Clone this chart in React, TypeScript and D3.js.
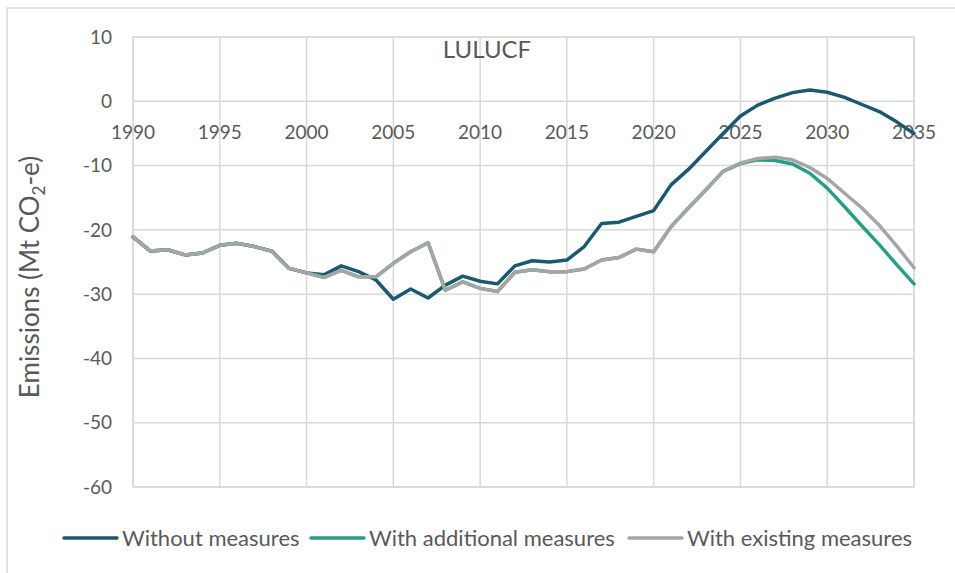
import React from "react";
import * as d3 from "d3";

const years = d3.range(1990, 2036);

const withoutMeasures = [
  -21.1, -23.3, -23.1, -23.9, -23.6, -22.4, -22.1, -22.6, -23.3, -26.0,
  -26.7, -27.0, -25.6, -26.5, -27.8, -30.8, -29.2, -30.6, -28.6, -27.2,
  -28.0, -28.4, -25.6, -24.8, -25.0, -24.7, -22.6, -19.0, -18.8, -17.9,
  -17.0, -13.0, -10.6, -7.8, -5.0, -2.3, -0.6, 0.5, 1.35, 1.75,
  1.4, 0.6, -0.5, -1.6, -3.2, -5.0,
];

const withExisting = [
  -21.1, -23.3, -23.1, -23.9, -23.6, -22.4, -22.1, -22.6, -23.3, -26.0,
  -26.7, -27.4, -26.3, -27.3, -27.3, -25.2, -23.4, -22.0, -29.4, -28.1,
  -29.1, -29.6, -26.6, -26.2, -26.5, -26.5, -26.1, -24.7, -24.3, -23.0,
  -23.4, -19.5, -16.6, -13.8, -10.9, -9.6, -8.9, -8.7, -9.1, -10.3,
  -12.0, -14.3, -16.6, -19.3, -22.5, -25.9,
];

const withAdditional = [
  -21.1, -23.3, -23.1, -23.9, -23.6, -22.4, -22.1, -22.6, -23.3, -26.0,
  -26.7, -27.4, -26.3, -27.3, -27.3, -25.2, -23.4, -22.0, -29.4, -28.1,
  -29.1, -29.6, -26.6, -26.2, -26.5, -26.5, -26.1, -24.7, -24.3, -23.0,
  -23.4, -19.5, -16.6, -13.8, -10.9, -9.7, -9.1, -9.2, -9.75, -11.2,
  -13.5, -16.4, -19.4, -22.3, -25.4, -28.4,
];

const seriesNames = ["Without measures", "With additional measures", "With existing measures"];
const seriesColors = ["#1B5A6E", "#2A9D8A", "#A5A5A5"];
const seriesData = [withoutMeasures, withAdditional, withExisting];

const xTicks = [1990, 1995, 2000, 2005, 2010, 2015, 2020, 2025, 2030, 2035];
const yTicks = [10, 0, -10, -20, -30, -40, -50, -60];

const FONT = "Lato, 'Open Sans', sans-serif";
const TEXT = "#595959";
const GRID = "#D9D9D9";

export default function App() {
  const W = 955, H = 573;
  const left = 133, right = 914, top = 37, bottom = 487;
  const x = d3.scaleLinear().domain([1990, 2035]).range([left, right]);
  const y = d3.scaleLinear().domain([-60, 10]).range([bottom, top]);
  const line = d3
    .line<number>()
    .x((_, i) => x(years[i]))
    .y((d) => y(d));

  const legendItems = [
    { sx: 64, tx: 122 },
    { sx: 311, tx: 369 },
    { sx: 629, tx: 687 },
  ];

  return (
    <svg
      width={W}
      height={H}
      style={{ position: "absolute", left: 0, top: 0, background: "#fff" }}
      fontFamily={FONT}
    >
      <rect x={7} y={8} width={1000} height={1000} fill="#fff" stroke={GRID} strokeWidth={1.5} />
      {/* grid */}
      {yTicks.map((t) => (
        <line key={"gy" + t} x1={left} x2={right} y1={y(t)} y2={y(t)} stroke={GRID} strokeWidth={1.5} />
      ))}
      {xTicks.map((t) => (
        <line key={"gx" + t} x1={x(t)} x2={x(t)} y1={top} y2={bottom} stroke={GRID} strokeWidth={1.5} />
      ))}
      <rect x={left} y={top} width={right - left} height={bottom - top} fill="none" stroke={GRID} strokeWidth={1.5} />

      {/* y tick labels */}
      {yTicks.map((t) => (
        <text key={"ty" + t} x={112} y={y(t)} dy="0.35em" textAnchor="end" fontSize={19} fill={TEXT}>
          {t}
        </text>
      ))}
      {/* x tick labels */}
      {xTicks.map((t) => (
        <text key={"tx" + t} x={x(t)} y={y(0) + 31} dy="0.35em" textAnchor="middle" fontSize={19} fill={TEXT}>
          {t}
        </text>
      ))}

      {/* title */}
      <text x={487} y={50} dy="0.35em" textAnchor="middle" fontSize={24} fill={TEXT}>
        LULUCF
      </text>

      {/* y axis title */}
      <text
        transform={`translate(30,${(top + bottom) / 2 + 15}) rotate(-90)`}
        textAnchor="middle"
        dy="0.35em"
        fontSize={26}
        fill={TEXT}
      >
        Emissions (Mt CO
        <tspan fontSize={17} dy="6">2</tspan>
        <tspan dy="-6">-e)</tspan>
      </text>

      {/* lines */}
      {seriesData.map((s, i) => (
        <path
          key={"l" + i}
          d={line(s) || ""}
          fill="none"
          stroke={seriesColors[i]}
          strokeWidth={3.5}
          strokeLinejoin="round"
          strokeLinecap="round"
        />
      ))}

      {/* legend */}
      {seriesNames.map((n, i) => (
        <g key={"lg" + i}>
          <line
            x1={legendItems[i].sx}
            x2={legendItems[i].sx + 53}
            y1={538}
            y2={538}
            stroke={seriesColors[i]}
            strokeWidth={3.5}
            strokeLinecap="round"
          />
          <text x={legendItems[i].tx} y={538} dy="0.35em" fontSize={22} fill={TEXT}>
            {n}
          </text>
        </g>
      ))}
    </svg>
  );
}
